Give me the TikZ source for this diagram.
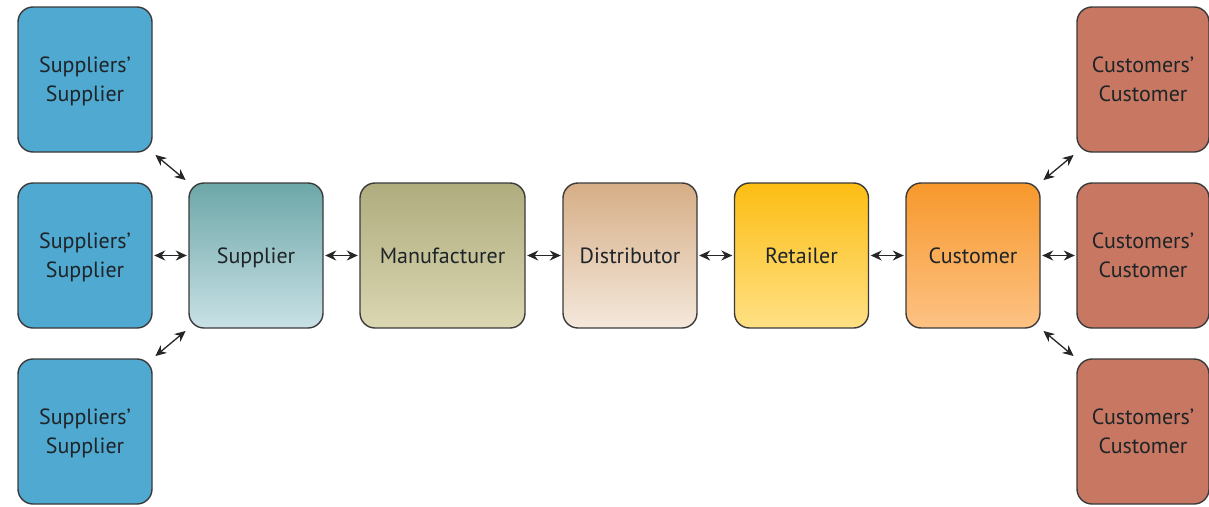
\documentclass[tikz,border=0pt]{standalone}
\usepackage{fontspec}
\setmainfont{PT Sans}
\usetikzlibrary{arrows.meta}
\definecolor{txt}{HTML}{1E2428}
\definecolor{edge}{HTML}{3A3A3A}
\definecolor{ssblue}{HTML}{4FA9D0}
\definecolor{ccred}{HTML}{C87862}
\definecolor{supT}{HTML}{6DA7A8}\definecolor{supB}{HTML}{C9E1E6}
\definecolor{manT}{HTML}{AFAC7E}\definecolor{manB}{HTML}{DAD7B2}
\definecolor{disT}{HTML}{D6AE86}\definecolor{disB}{HTML}{F4E8DC}
\definecolor{retT}{HTML}{FDBE14}\definecolor{retB}{HTML}{FEE084}
\definecolor{cusT}{HTML}{F7982C}\definecolor{cusB}{HTML}{FDC284}
\tikzset{
  box/.style={draw=edge, line width=1.4pt, rounded corners=15pt, minimum height=145pt,
    minimum width=134pt, inner sep=0pt, align=center, text=txt, text depth=-3pt,
    font=\fontsize{22}{29}\selectfont},
  ssbox/.style={box, fill=ssblue},
  ccbox/.style={box, fill=ccred, minimum width=132pt},
  link/.style={{Stealth[length=11pt,width=10pt]}-{Stealth[length=11pt,width=10pt]}, line width=1.5pt, draw=black!85,
    shorten <=1.5pt, shorten >=1.5pt},
  dlink/.style={link, line width=1.3pt, shorten <=3.5pt, shorten >=3.5pt}
}
\begin{document}
\begin{tikzpicture}[x=1pt,y=-1pt]
\useasboundingbox (0,0) rectangle (1209,506);
% left column
\node[ssbox] (s1) at (85,79.5) {Suppliers'\\Supplier};
\node[ssbox] (s2) at (85,255.5) {Suppliers'\\Supplier};
\node[ssbox] (s3) at (85,431.5) {Suppliers'\\Supplier};
% main chain
\node[box, top color=supT, bottom color=supB] (sup) at (256,255.5) {Supplier};
\node[box, minimum width=165pt, top color=manT, bottom color=manB] (man) at (442.5,255.5) {Manufacturer};
\node[box, top color=disT, bottom color=disB] (dis) at (630,255.5) {Distributor};
\node[box, top color=retT, bottom color=retB] (ret) at (801.5,255.5) {Retailer};
\node[box, top color=cusT, bottom color=cusB] (cus) at (973,255.5) {Customer};
% right column
\node[ccbox] (c1) at (1143,79.5) {Customers'\\Customer};
\node[ccbox] (c2) at (1143,255.5) {Customers'\\Customer};
\node[ccbox] (c3) at (1143,431.5) {Customers'\\Customer};
% connectors
\draw[link] (s2.east) -- (sup.west);
\draw[link] (sup.east) -- (man.west);
\draw[link] (man.east) -- (dis.west);
\draw[link] (dis.east) -- (ret.west);
\draw[link] (ret.east) -- (cus.west);
\draw[link] (cus.east) -- (c2.west);
\draw[dlink] (s1.south east) -- (sup.north west);
\draw[dlink] (s3.north east) -- (sup.south west);
\draw[dlink] (c1.south west) -- (cus.north east);
\draw[dlink] (c3.north west) -- (cus.south east);
\end{tikzpicture}
\end{document}
